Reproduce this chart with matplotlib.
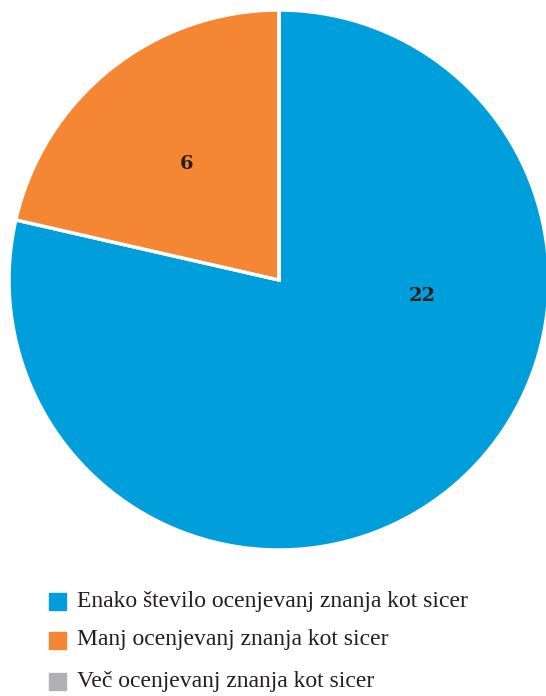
import matplotlib.pyplot as plt
from matplotlib.patches import Rectangle

# Data
categories = ['Enako število ocenjevanj znanja kot sicer',
              'Manj ocenjevanj znanja kot sicer',
              'Več ocenjevanj znanja kot sicer']
values = [22, 6, 0]
colors = ['#009fdb', '#f58634', '#b1b1b3']

W, H = 546, 696
fig = plt.figure(figsize=(W / 100, H / 100), dpi=100)

# Pie axes: centre (279, 280) px, radius 270 px
cx, cy, r = 279, 280, 270
ax = fig.add_axes([(cx - r) / W, (H - cy - r) / H, 2 * r / W, 2 * r / H])
wedges, texts = ax.pie(values, colors=colors, startangle=90, counterclock=False,
                       radius=1, labels=[str(v) if v else '' for v in values],
                       labeldistance=0.55,
                       wedgeprops=dict(edgecolor='white', linewidth=2.5))
for t in texts:
    t.set_fontfamily('DejaVu Serif')
    t.set_fontweight('bold')
    t.set_fontsize(14)
    t.set_color('#231f20')
    t.set_ha('center')
    t.set_va('center')
# big slice label sits to the right (best-fit placement)
texts[0].set_position((0.53, -0.06))
ax.set_xlim(-1, 1)
ax.set_ylim(-1, 1)
ax.set_aspect('equal')
ax.axis('off')
for w in wedges:
    w.set_clip_on(False)

# Legend
rows_y = [601, 640, 681]
for cat, col, y in zip(categories, colors, rows_y):
    s = 17
    fig.patches.append(Rectangle((49 / W, (H - y - s / 2) / H), s / W, s / H,
                                 transform=fig.transFigure, color=col))
    fig.text(77 / W, (H - y) / H, cat, fontsize=17, family='Liberation Serif',
             color='#231f20', va='center', ha='left')

plt.savefig('out.png', dpi=100)
